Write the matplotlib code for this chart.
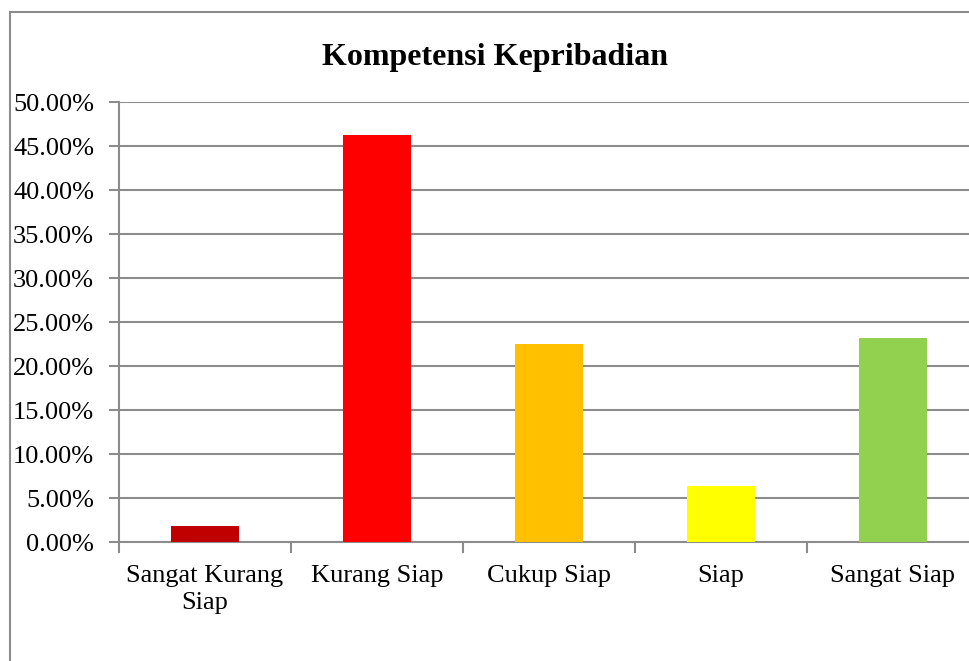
import numpy as np
import matplotlib
matplotlib.use("Agg")
import matplotlib.pyplot as plt
from matplotlib.patches import Rectangle
from matplotlib.ticker import FuncFormatter, MultipleLocator

categories = ["Sangat Kurang\nSiap", "Kurang Siap", "Cukup Siap", "Siap", "Sangat Siap"]
values = [1.9, 46.3, 22.5, 6.4, 23.2]
colors = ["#C00000", "#FF0000", "#FFC000", "#FFFF00", "#92D050"]
title = "Kompetensi Kepribadian"

plt.rcParams["font.family"] = ["Liberation Serif", "DejaVu Serif"]
grid_color = "#8C8C8C"

W, H = 969, 661
fig = plt.figure(figsize=(W / 100, H / 100), dpi=100)

# plot area runs past the right edge of the image, as in the source
ax = fig.add_axes([119 / W, (H - 542.3) / H, 860 / W, 440 / H])
x = np.arange(len(categories))
ax.bar(x, values, width=0.4, color=colors, zorder=3)

ax.set_xlim(-0.5, len(categories) - 0.5)
ax.set_ylim(0, 50)
ax.yaxis.set_major_locator(MultipleLocator(5))
ax.yaxis.set_major_formatter(FuncFormatter(lambda v, _: f"{v:.2f}%"))
ax.yaxis.grid(True, color=grid_color, linewidth=1.5, zorder=0)

ax.set_xticks(x)
ax.set_xticklabels(categories, fontsize=19, linespacing=1.3)
ax.set_xticks(np.arange(len(categories)) - 0.5, minor=True)
ax.tick_params(axis="x", which="major", length=0, pad=16)
ax.tick_params(axis="x", which="minor", length=8, width=1.5, color=grid_color)
ax.tick_params(axis="y", length=7, width=1.5, color=grid_color, labelsize=19, pad=11)

for side in ["top", "right"]:
    ax.spines[side].set_visible(False)
for side in ["left", "bottom"]:
    ax.spines[side].set_color(grid_color)
    ax.spines[side].set_linewidth(1.5)

fig.text(495 / W, 1 - 57 / H, title, ha="center", va="center",
         fontsize=23, fontweight="bold")

# outer chart frame (right and bottom edges fall outside the image)
fig.add_artist(Rectangle((10 / W, -0.1), 1.0, (H - 12) / H + 0.1,
                         transform=fig.transFigure, fill=False,
                         edgecolor=grid_color, linewidth=1.5))

fig.savefig("out.png", dpi=100)
